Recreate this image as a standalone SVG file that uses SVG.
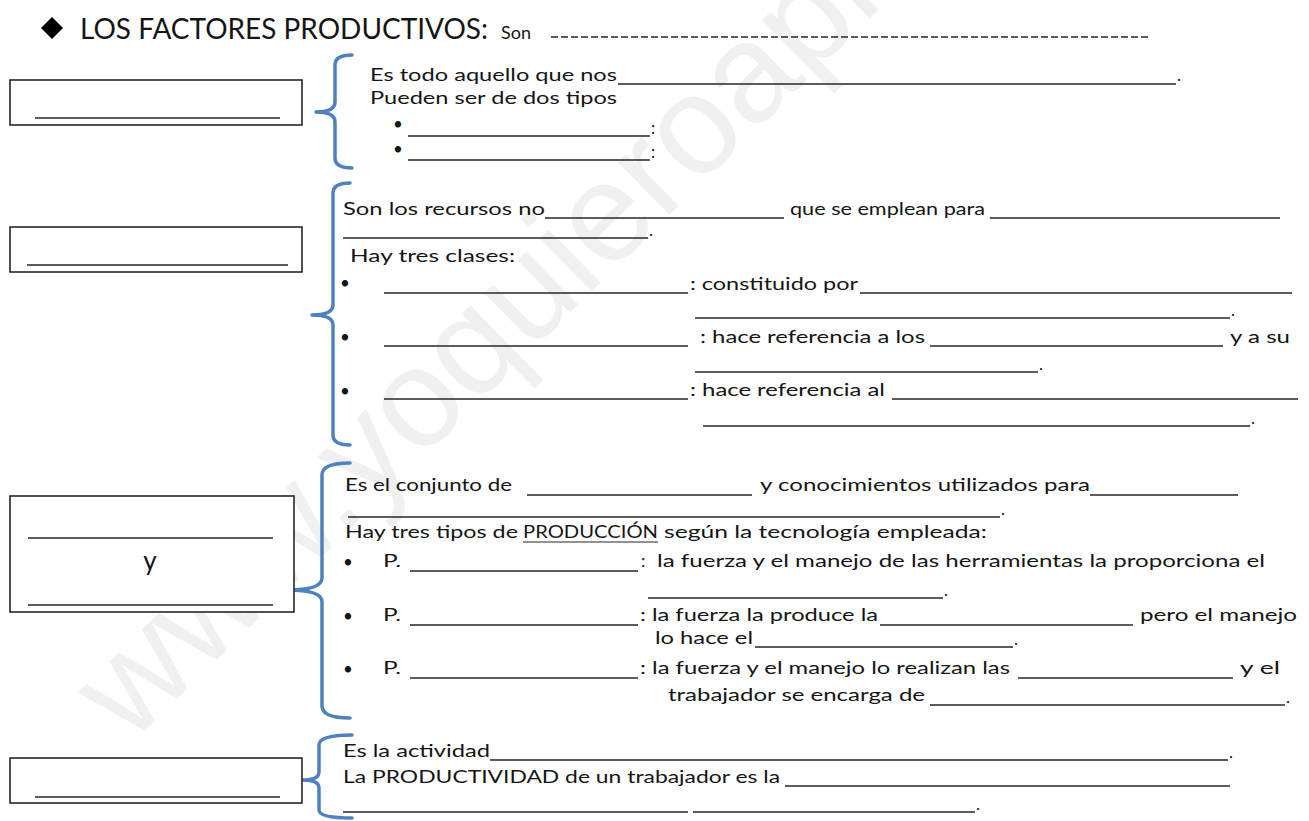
<svg xmlns="http://www.w3.org/2000/svg" width="1309" height="821" viewBox="0 0 1309 821">
<style>
.t{font-family:Lato,"Liberation Sans",sans-serif;font-size:17px;fill:#151515}
.ti{font-family:Lato,"Liberation Sans",sans-serif;font-size:29px;fill:#151515}
.b{font-family:Lato,"Liberation Sans",sans-serif;font-size:17px;fill:#151515;text-anchor:middle}
.u{stroke:#262626;stroke-width:1.6;fill:none}
.box{fill:#fff;stroke:#262626;stroke-width:1.6}
.br{fill:none;stroke:#4f81bd;stroke-width:3.5;stroke-linecap:round;stroke-linejoin:round}
.wm{font-family:"Liberation Sans",Arial,sans-serif;font-size:140px;fill:#f0f0f0}
</style>
<rect width="1309" height="821" fill="#fff"/>
<text class="wm" transform="translate(130,745) rotate(-44.5)">www.yoquieroaprobar.es</text>

<g id="title">
<path d="M52,17 L63,28 L52,39 L41,28 Z" fill="#000"/>
<text class="ti" x="80" y="39" textLength="408" lengthAdjust="spacingAndGlyphs">LOS FACTORES PRODUCTIVOS:</text>
<text class="t" x="501" y="39" textLength="30" lengthAdjust="spacingAndGlyphs">Son</text>
<line class="u" x1="551" y1="37" x2="1150" y2="37" stroke-dasharray="7 3" stroke-width="2"/>
</g>

<g id="connectors">
<path class="br" d="M352,55 Q335,55 335,65 L335,102 Q335,112 316,112 Q335,112 335,122 L335,158 Q335,168 352,168"/>
<path class="br" d="M350,183 Q333,183 333,193 L333,305 Q333,315 312,315 Q333,315 333,325 L333,435 Q333,445 350,445"/>
<path class="br" d="M350,463 Q322,463 322,475 L322,578 Q322,590 288,590 Q322,590 322,602 L322,706 Q322,718 350,718"/>
<path class="br" d="M352,735 Q319,735 319,745 L319,772 Q319,780 303,780 Q319,780 319,788 L319,810 Q319,818 352,818"/>
</g>

<g id="node1">
<rect class="box" x="10" y="80" width="292" height="45"/>
<line class="u" x1="35" y1="118" x2="280" y2="118"/>
<text class="t" x="370" y="81" textLength="247" lengthAdjust="spacingAndGlyphs">Es todo aquello que nos</text>
<line class="u" x1="618" y1="84" x2="1176" y2="84"/>
<text class="t" x="1177" y="81">.</text>
<text class="t" x="370" y="104" textLength="247" lengthAdjust="spacingAndGlyphs">Pueden ser de dos tipos</text>
<text class="b" x="398" y="130">•</text>
<line class="u" x1="408" y1="136" x2="650" y2="136"/>
<text class="t" x="651" y="134">:</text>
<text class="b" x="398" y="155">•</text>
<line class="u" x1="408" y1="160" x2="650" y2="160"/>
<text class="t" x="651" y="158">:</text>
</g>

<g id="node2">
<rect class="box" x="10" y="227" width="292" height="45"/>
<line class="u" x1="27" y1="265" x2="288" y2="265"/>
<text class="t" x="343" y="215" textLength="202" lengthAdjust="spacingAndGlyphs">Son los recursos no</text>
<line class="u" x1="545" y1="218" x2="784" y2="218"/>
<text class="t" x="790" y="215" textLength="195" lengthAdjust="spacingAndGlyphs">que se emplean para</text>
<line class="u" x1="990" y1="218" x2="1280" y2="218"/>
<line class="u" x1="343" y1="238" x2="648" y2="238"/>
<text class="t" x="649" y="236">.</text>
<text class="t" x="350" y="262" textLength="165" lengthAdjust="spacingAndGlyphs">Hay tres  clases:</text>
<text class="b" x="345" y="289">•</text>
<line class="u" x1="384" y1="293" x2="688" y2="293"/>
<text class="t" x="690" y="290" textLength="168" lengthAdjust="spacingAndGlyphs">: constituido por</text>
<line class="u" x1="860" y1="293" x2="1292" y2="293"/>
<line class="u" x1="695" y1="318" x2="1230" y2="318"/>
<text class="t" x="1231" y="316">.</text>
<text class="b" x="345" y="343">•</text>
<line class="u" x1="384" y1="346" x2="688" y2="346"/>
<text class="t" x="700" y="343" textLength="225" lengthAdjust="spacingAndGlyphs">: hace referencia a los</text>
<line class="u" x1="930" y1="346" x2="1223" y2="346"/>
<text class="t" x="1230" y="343" textLength="60" lengthAdjust="spacingAndGlyphs">y a su</text>
<line class="u" x1="695" y1="372" x2="1038" y2="372"/>
<text class="t" x="1039" y="370">.</text>
<text class="b" x="345" y="397">•</text>
<line class="u" x1="384" y1="399" x2="688" y2="399"/>
<text class="t" x="690" y="396" textLength="195" lengthAdjust="spacingAndGlyphs">: hace referencia al</text>
<line class="u" x1="892" y1="399" x2="1298" y2="399"/>
<line class="u" x1="703" y1="426" x2="1250" y2="426"/>
<text class="t" x="1251" y="424">.</text>
</g>

<g id="node3">
<rect class="box" x="10" y="496" width="284" height="116"/>
<line class="u" x1="28" y1="538" x2="273" y2="538"/>
<text x="150" y="570" style="font-family:Lato,'Liberation Sans',sans-serif;font-size:26px;fill:#151515;text-anchor:middle">y</text>
<line class="u" x1="28" y1="605" x2="273" y2="605"/>
<text class="t" x="345" y="491" textLength="167" lengthAdjust="spacingAndGlyphs">Es el conjunto de</text>
<line class="u" x1="527" y1="495" x2="752" y2="495"/>
<text class="t" x="760" y="491" textLength="330" lengthAdjust="spacingAndGlyphs">y conocimientos utilizados para</text>
<line class="u" x1="1090" y1="495" x2="1238" y2="495"/>
<line class="u" x1="348" y1="517" x2="1000" y2="517"/>
<text class="t" x="1001" y="515">.</text>
<text class="t" x="345" y="538" textLength="173" lengthAdjust="spacingAndGlyphs">Hay tres tipos de</text>
<text class="t" x="523" y="538" textLength="135" lengthAdjust="spacingAndGlyphs">PRODUCCIÓN</text>
<line x1="523" y1="542" x2="658" y2="542" stroke="#262626" stroke-width="1.2"/>
<text class="t" x="664" y="538" textLength="323" lengthAdjust="spacingAndGlyphs">según la tecnología empleada:</text>
<text class="b" x="348" y="568">•</text>
<text class="t" x="383" y="567" textLength="18" lengthAdjust="spacingAndGlyphs">P.</text>
<line class="u" x1="410" y1="571" x2="638" y2="571"/>
<text class="t" x="641" y="567">:</text>
<text class="t" x="657" y="567" textLength="608" lengthAdjust="spacingAndGlyphs">la fuerza y el manejo de las herramientas la proporciona el</text>
<line class="u" x1="648" y1="598" x2="943" y2="598"/>
<text class="t" x="944" y="596">.</text>
<text class="b" x="348" y="622">•</text>
<text class="t" x="383" y="621" textLength="18" lengthAdjust="spacingAndGlyphs">P.</text>
<line class="u" x1="410" y1="625" x2="638" y2="625"/>
<text class="t" x="640" y="621" textLength="238" lengthAdjust="spacingAndGlyphs">: la fuerza la produce la</text>
<line class="u" x1="880" y1="625" x2="1133" y2="625"/>
<text class="t" x="1140" y="621" textLength="157" lengthAdjust="spacingAndGlyphs">pero el manejo</text>
<text class="t" x="655" y="644" textLength="98" lengthAdjust="spacingAndGlyphs">lo hace el</text>
<line class="u" x1="755" y1="647" x2="1013" y2="647"/>
<text class="t" x="1014" y="645">.</text>
<text class="b" x="348" y="675">•</text>
<text class="t" x="383" y="674" textLength="18" lengthAdjust="spacingAndGlyphs">P.</text>
<line class="u" x1="410" y1="678" x2="638" y2="678"/>
<text class="t" x="640" y="674" textLength="370" lengthAdjust="spacingAndGlyphs">: la fuerza y el manejo lo realizan las</text>
<line class="u" x1="1018" y1="678" x2="1233" y2="678"/>
<text class="t" x="1240" y="674" textLength="40" lengthAdjust="spacingAndGlyphs">y el</text>
<text class="t" x="668" y="701" textLength="257" lengthAdjust="spacingAndGlyphs">trabajador se encarga de</text>
<line class="u" x1="930" y1="705" x2="1285" y2="705"/>
<text class="t" x="1286" y="703">.</text>
</g>

<g id="node4">
<rect class="box" x="10" y="758" width="292" height="45"/>
<line class="u" x1="35" y1="797" x2="280" y2="797"/>
<text class="t" x="343" y="757" textLength="147" lengthAdjust="spacingAndGlyphs">Es la actividad</text>
<line class="u" x1="490" y1="760" x2="1228" y2="760"/>
<text class="t" x="1229" y="758">.</text>
<text class="t" x="343" y="783" textLength="437" lengthAdjust="spacingAndGlyphs">La PRODUCTIVIDAD de un trabajador es la</text>
<line class="u" x1="785" y1="786" x2="1230" y2="786"/>
<line class="u" x1="343" y1="812" x2="688" y2="812"/>
<line class="u" x1="693" y1="812" x2="975" y2="812"/>
<text class="t" x="976" y="810">.</text>
</g>
</svg>
